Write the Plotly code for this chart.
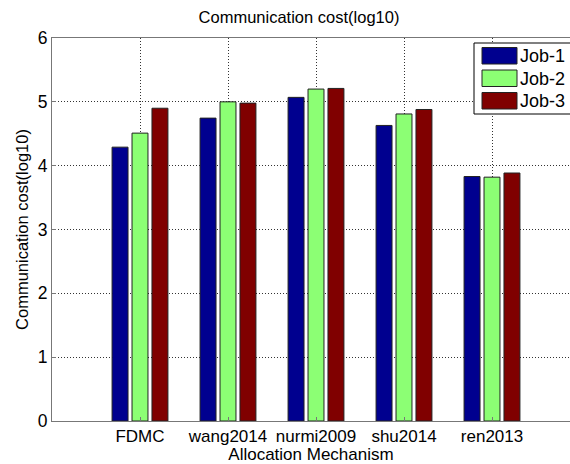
import plotly.graph_objects as go

categories = ["FDMC", "wang2014", "nurmi2009", "shu2014", "ren2013"]
job1 = [4.29, 4.745, 5.07, 4.63, 3.83]
job2 = [4.51, 5.00, 5.20, 4.81, 3.82]
job3 = [4.90, 4.98, 5.21, 4.88, 3.885]
series_names = ["Job-1", "Job-2", "Job-3"]
colors = ["#00008F", "#8CFF74", "#800000"]
yticks = [0, 1, 2, 3, 4, 5, 6]

xpos = [1, 2, 3, 4, 5]
font = "Liberation Sans, Arial, sans-serif"

W, H = 570, 464
L, R, T, B = 52, 0, 38, 43
pw, ph = W - L - R, H - T - B


def px(x):
    return (x - L) / pw


def py(y):
    return (H - B - y) / ph


fig = go.Figure()
for name, vals, c in zip(series_names, [job1, job2, job3], colors):
    fig.add_trace(go.Bar(x=xpos, y=vals, name=name, showlegend=False,
                         marker=dict(color=c, line=dict(color="#222222", width=1))))

# manual MATLAB-style legend
shapes = [dict(type="rect", xref="paper", yref="paper",
               x0=px(474), x1=px(600), y0=py(114), y1=py(43),
               line=dict(color="black", width=1), fillcolor="white", layer="above")]
annotations = []
sw_top = [47.5, 70, 92.5]
for i, (name, c) in enumerate(zip(series_names, colors)):
    y0 = sw_top[i]
    shapes.append(dict(type="rect", xref="paper", yref="paper",
                       x0=px(482), x1=px(517), y0=py(y0 + 16.5), y1=py(y0),
                       line=dict(color="#222222", width=1), fillcolor=c, layer="above"))
    annotations.append(dict(text=name, xref="paper", yref="paper",
                            x=px(518), y=py(y0 + 8.5), xanchor="left", yanchor="middle",
                            showarrow=False, font=dict(size=18, family=font, color="black")))

fig.update_layout(
    width=W, height=H,
    margin=dict(l=L, r=R, t=T, b=B, autoexpand=False),
    paper_bgcolor="white", plot_bgcolor="white",
    barmode="group", bargap=0.32, bargroupgap=0.2,
    font=dict(family=font, size=16, color="black"),
    title=dict(text="Communication cost(log10)", x=299 / W, xanchor="center",
               xref="container", y=1 - 17 / H, yanchor="middle",
               font=dict(size=16.5)),
    shapes=shapes, annotations=annotations,
    showlegend=False,
)
fig.update_xaxes(
    range=[0, pw / 88], tickvals=xpos, ticktext=categories,
    showgrid=True, gridcolor="#333333", griddash="1px,2px", gridwidth=1,
    showline=True, linecolor="#777777", linewidth=1, mirror=True,
    ticks="inside", ticklen=4, tickcolor="#777777",
    title=dict(text="Allocation Mechanism", standoff=1, font=dict(size=17)),
    tickfont=dict(size=17), zeroline=False, automargin=False,
)
fig.update_yaxes(
    range=[0, 6], tickvals=yticks,
    showgrid=True, gridcolor="#333333", griddash="1px,2px", gridwidth=1,
    showline=True, linecolor="#777777", linewidth=1, mirror=False,
    ticks="inside", ticklen=4, tickcolor="#777777",
    title=dict(text="Communication cost(log10)", standoff=4, font=dict(size=16.5)),
    tickfont=dict(size=17.5), zeroline=False, automargin=False,
)

fig.write_html("out.html", config={"displayModeBar": False},
               post_script="document.body.style.margin='0';document.body.style.padding='0';"
                           "document.documentElement.style.overflow='hidden';")
